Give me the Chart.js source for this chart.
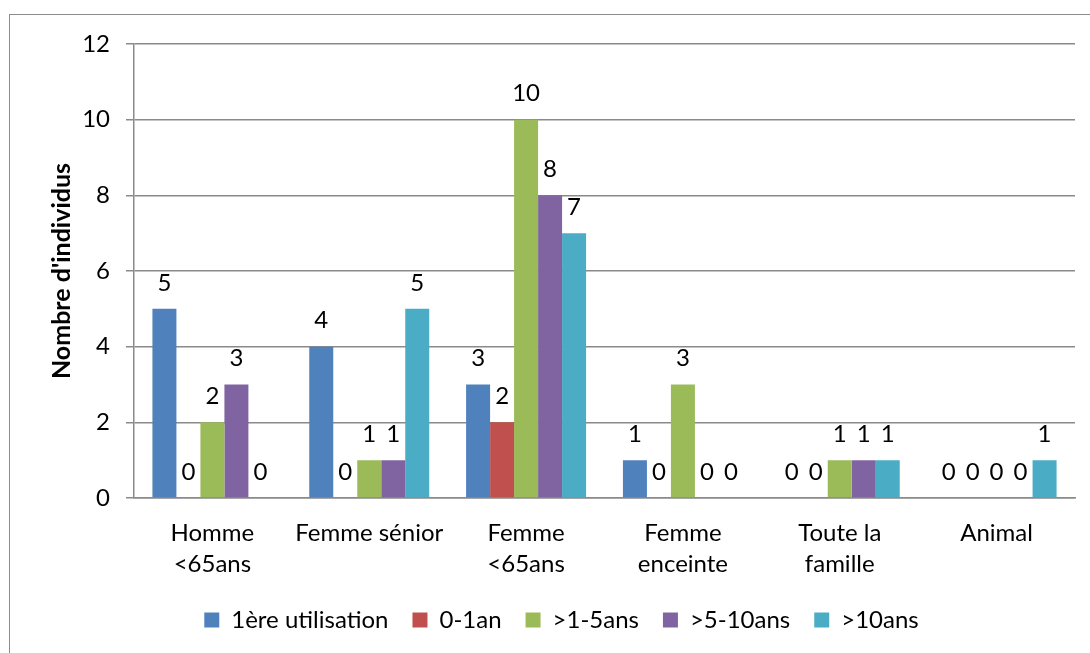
<!DOCTYPE html>
<html>
<head>
<meta charset="utf-8">
<script src="https://cdn.jsdelivr.net/npm/chart.js@4/dist/chart.umd.min.js"></script>
<style>
html,body{margin:0;padding:0;background:#fff;overflow:hidden;width:1090px;height:653px;}
#frame{position:absolute;left:9px;top:14px;width:1200px;height:800px;border:1.5px solid #8c8c8c;box-sizing:border-box;}
#wrap{position:absolute;left:0;top:0;width:1090px;height:653px;}
</style>
</head>
<body>
<div id="frame"></div>
<div id="wrap"><canvas id="c" width="1090" height="653"></canvas></div>
<script>
const categories = [["Homme","<65ans"], "Femme sénior", ["Femme","<65ans"], ["Femme","enceinte"], ["Toute la","famille"], "Animal"];
const seriesNames = ["1ère utilisation", "0-1an", ">1-5ans", ">5-10ans", ">10ans"];
const firstUse = [5, 4, 3, 1, 0, 0];
const y0to1 = [0, 0, 2, 0, 0, 0];
const y1to5 = [2, 1, 10, 3, 1, 0];
const y5to10 = [3, 1, 8, 0, 1, 0];
const y10plus = [0, 5, 7, 0, 1, 1];
const yTicks = [0, 2, 4, 6, 8, 10, 12];
const colors = ["#4F81BD", "#C0504D", "#9BBB59", "#8064A2", "#4BACC6"];
const values = [firstUse, y0to1, y1to5, y5to10, y10plus];

const FONT = "Lato, 'Open Sans', sans-serif";
const FS = 24;

const labelPlugin = {
  id: 'valueLabels',
  afterDatasetsDraw(chart) {
    const ctx = chart.ctx;
    ctx.save();
    ctx.font = FS + "px " + FONT;
    ctx.fillStyle = "#000";
    ctx.textAlign = "center";
    ctx.textBaseline = "middle";
    chart.data.datasets.forEach((ds, i) => {
      const meta = chart.getDatasetMeta(i);
      meta.data.forEach((el, j) => {
        ctx.fillText(String(ds.data[j]), el.x, el.y - 26);
      });
    });
    ctx.restore();
  }
};

new Chart(document.getElementById('c'), {
  type: 'bar',
  data: {
    labels: categories,
    datasets: seriesNames.map((n, i) => ({
      label: n,
      data: values[i],
      backgroundColor: colors[i],
      borderWidth: 0,
      categoryPercentage: 0.765,
      barPercentage: 1.0
    }))
  },
  options: {
    responsive: false,
    animation: false,
    devicePixelRatio: 1,
    layout: { padding: { left: 48, right: 15, top: 44, bottom: 11 } },
    plugins: {
      legend: {
        position: 'bottom',
        labels: {
          font: { family: FONT, size: FS },
          color: '#000',
          boxWidth: 15,
          boxHeight: 15,
          padding: 24
        }
      },
      tooltip: { enabled: false }
    },
    scales: {
      x: {
        grid: { display: false, drawTicks: false },
        border: { display: true, color: '#8a8a8a', width: 1.5 },
        ticks: {
          font: { family: FONT, size: FS, lineHeight: 1.29 },
          color: '#000',
          padding: 20,
          maxRotation: 0,
          autoSkip: false
        },
        afterFit: s => { s.height = 86; }
      },
      y: {
        min: 0, max: 12,
        afterBuildTicks: s => { s.ticks = yTicks.map(v => ({ value: v })); },
        grid: { color: '#8a8a8a', lineWidth: 1.5, tickLength: 8 },
        border: { display: true, color: '#8a8a8a', width: 1.5 },
        ticks: {
          font: { family: FONT, size: FS },
          color: '#000',
          padding: 16
        },
        title: {
          display: true,
          text: "Nombre d'individus",
          font: { family: FONT, size: 25, weight: 'bold', lineHeight: 1.15 },
          color: '#000',
          padding: { top: 0, bottom: 0 }
        },
        afterFit: s => { s.width = 86; }
      }
    }
  },
  plugins: [labelPlugin]
});
</script>
</body>
</html>
